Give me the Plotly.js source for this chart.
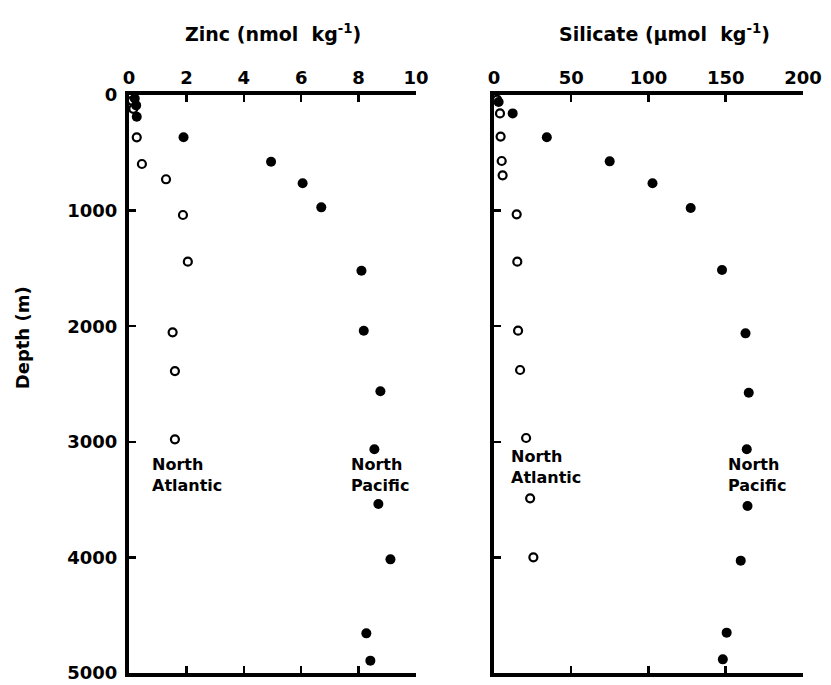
<!DOCTYPE html>
<html>
<head>
<meta charset="utf-8">
<script src="https://cdn.plot.ly/plotly-3.0.1.min.js"></script>
<style>html,body{margin:0;padding:0;background:#fff;}#chart{width:831px;height:685px;}</style>
</head>
<body>
<div id="chart"></div>
<script>
// Zinc (nmol/kg) profiles
const zincPacificDepth = [30, 90, 188, 366, 577, 764, 972, 1520, 2039, 2563, 3065, 3538, 4017, 4657, 4893];
const zincPacific      = [0.2, 0.25, 0.27, 1.9, 4.95, 6.05, 6.7, 8.1, 8.18, 8.76, 8.55, 8.69, 9.11, 8.27, 8.41];
const zincAtlanticDepth = [50, 120, 366, 597, 729, 1038, 1442, 2053, 2388, 2979];
const zincAtlantic      = [0.1, 0.15, 0.27, 0.45, 1.29, 1.88, 2.05, 1.52, 1.6, 1.6];

// Silicate (umol/kg) profiles
const siPacificDepth = [60, 159, 366, 574, 764, 977, 1514, 2062, 2575, 3065, 3555, 4028, 4651, 4882];
const siPacific      = [3, 12.1, 34.2, 74.9, 102.6, 127.3, 147.6, 162.8, 164.9, 163.6, 164.1, 159.7, 150.6, 148.1];
const siAtlanticDepth = [40, 159, 360, 571, 695, 1032, 1442, 2039, 2379, 2967, 3489, 3999];
const siAtlantic      = [2, 3.9, 4.3, 5.0, 5.6, 14.7, 15.1, 15.6, 16.9, 20.8, 23.4, 25.5];

const zincTicks = [0, 2, 4, 6, 8, 10];
const siTicks = [0, 50, 100, 150, 200];
const depthTicks = [0, 1000, 2000, 3000, 4000, 5000];

const FONT = "DejaVu Sans";
const closedMarker = {symbol: 'circle', size: 10, color: '#000'};
const openMarker = {symbol: 'circle-open', size: 8, color: '#000', line: {width: 2.2, color: '#000'}};

const traces = [
  {x: zincPacific, y: zincPacificDepth, xaxis: 'x', yaxis: 'y', mode: 'markers', type: 'scatter', marker: closedMarker, name: 'North Pacific', showlegend: false},
  {x: zincAtlantic, y: zincAtlanticDepth, xaxis: 'x', yaxis: 'y', mode: 'markers', type: 'scatter', marker: openMarker, name: 'North Atlantic', showlegend: false},
  {x: siPacific, y: siPacificDepth, xaxis: 'x2', yaxis: 'y2', mode: 'markers', type: 'scatter', marker: closedMarker, name: 'North Pacific', showlegend: false},
  {x: siAtlantic, y: siAtlanticDepth, xaxis: 'x2', yaxis: 'y2', mode: 'markers', type: 'scatter', marker: openMarker, name: 'North Atlantic', showlegend: false}
];

const tickFont = {family: FONT, size: 18, color: '#000', weight: 'bold'};
const axBase = {
  showgrid: false, zeroline: false, showline: true, linecolor: '#000', linewidth: 4,
  ticks: 'inside', ticklen: 7, tickwidth: 2.5, tickcolor: '#000', tickfont: tickFont
};

const layout = {
  width: 831, height: 685,
  margin: {l: 129, r: 28, t: 95, b: 12},
  paper_bgcolor: '#fff', plot_bgcolor: '#fff',
  showlegend: false,
  font: {family: FONT, color: '#000'},
  xaxis: Object.assign({}, axBase, {domain: [0, 0.4258], range: [0, 10], side: 'top', mirror: 'ticks',
    tickmode: 'array', tickvals: zincTicks, ticktext: zincTicks.map(String), anchor: 'y', ticklabelstandoff: 0}),
  yaxis: Object.assign({}, axBase, {range: [5000, 0], tickmode: 'array', tickvals: depthTicks,
    ticktext: depthTicks.map(String), anchor: 'x', ticklabelstandoff: 4}),
  xaxis2: Object.assign({}, axBase, {domain: [0.5415, 1], range: [0, 200], side: 'top', mirror: 'ticks',
    tickmode: 'array', tickvals: siTicks, ticktext: siTicks.map(String), anchor: 'y2', ticklabelstandoff: 0}),
  yaxis2: Object.assign({}, axBase, {range: [5000, 0], tickmode: 'array', tickvals: depthTicks,
    showticklabels: false, anchor: 'x2'}),
  annotations: [
    {text: 'Zinc (nmol  kg<sup>-1</sup>)', xref: 'paper', yref: 'paper', x: 0.213, y: 1.107, xanchor: 'center', yanchor: 'middle',
     showarrow: false, font: {family: FONT, size: 19, color: '#000', weight: 'bold'}},
    {text: 'Silicate (µmol  kg<sup>-1</sup>)', xref: 'paper', yref: 'paper', x: 0.795, y: 1.107, xanchor: 'center', yanchor: 'middle',
     showarrow: false, font: {family: FONT, size: 19, color: '#000', weight: 'bold'}},
    {text: 'Depth (m)', xref: 'paper', yref: 'paper', x: -0.158, y: 0.58, xanchor: 'center', yanchor: 'middle', textangle: -90,
     showarrow: false, font: {family: FONT, size: 18, color: '#000', weight: 'bold'}},
    {text: 'North<br>Atlantic', xref: 'x', yref: 'y', x: 0.73, y: 3287, xanchor: 'left', yanchor: 'middle', align: 'left',
     showarrow: false, font: {family: FONT, size: 16, color: '#000', weight: 'bold'}},
    {text: 'North<br>Pacific', xref: 'x', yref: 'y', x: 7.67, y: 3287, xanchor: 'left', yanchor: 'middle', align: 'left',
     showarrow: false, font: {family: FONT, size: 16, color: '#000', weight: 'bold'}},
    {text: 'North<br>Atlantic', xref: 'x2', yref: 'y2', x: 9.7, y: 3218, xanchor: 'left', yanchor: 'middle', align: 'left',
     showarrow: false, font: {family: FONT, size: 16, color: '#000', weight: 'bold'}},
    {text: 'North<br>Pacific', xref: 'x2', yref: 'y2', x: 150.2, y: 3287, xanchor: 'left', yanchor: 'middle', align: 'left',
     showarrow: false, font: {family: FONT, size: 16, color: '#000', weight: 'bold'}}
  ]
};

Plotly.newPlot('chart', traces, layout, {displayModeBar: false, staticPlot: true});
</script>
</body>
</html>
